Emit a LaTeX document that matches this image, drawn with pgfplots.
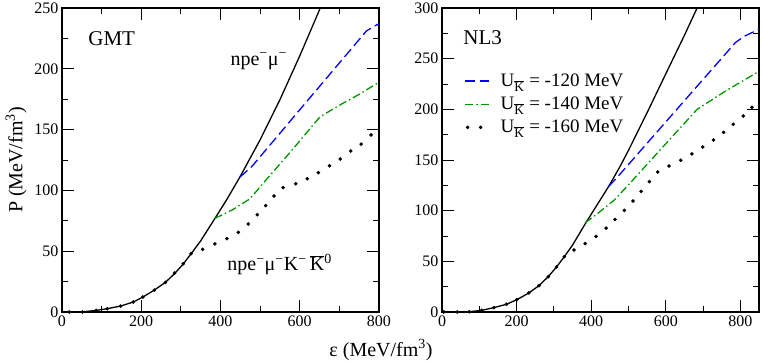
\documentclass[border=0pt]{standalone}
\usepackage{fontspec}
\setmainfont{Liberation Serif}
\usepackage{pgfplots}
\pgfplotsset{compat=1.18}
\definecolor{ublue}{RGB}{0,0,255}
\definecolor{ugreen}{RGB}{0,150,0}
\newcommand{\ovl}[1]{\leavevmode\vbox{\hrule height 0.6pt\kern 1.2pt\hbox{#1}}}

\pgfplotstableread{
x y
0 0
20 0
50 0.1
86 1.3
114 2.7
148 4.9
180 8.2
204 12.3
233 18
261 24.4
284 31.5
306 39.5
326 48
350 58.5
386 77
415 92
449 111
500 141.6
550 174.6
600 210.6
650 248.6
665 260
}\gmtnpe
\pgfplotstableread{
x y
449 111
465 115.5
480 120
600 166.3
700 204.8
768 231
785 234.5
800 237
}\gmtA
\pgfplotstableread{
x y
386 77
430 84
474 93
516 109
575 131
651 160.5
700 170
750 179
802 189.4
}\gmtB
\pgfplotstableread{
x y
18.5 0
52 0
86 1.3
114 2.7
148 4.9
180 8.2
204 12.3
233 18
261 24.4
284 32
306 39.7
326 48
355 51.5
386 56
416 60.3
445 65.5
470 72.4
493 80
514 87.5
535 95.4
558 102.2
590 105.5
619 109.6
647 114.6
675 120.3
702 125.8
729 132.4
755 138
780 145.6
}\gmtC
\pgfplotstableread{
x y
0 0
41 0
73 0.3
106 1.6
139 4.3
173 7.6
201 12.2
233 18.8
260 26
285 34.9
307 44.4
328 54.6
350 66
384 87
424 110.5
447 124
478 144
500 159.5
553 199
600 235
650 273
684 300
695 309
}\nlnpe
\pgfplotstableread{
x y
447 124
470 133
787 266
810 272
850 279
}\nlA
\pgfplotstableread{
x y
384 88
420 98
462 110.5
500 125.5
600 166
684 200
760 218
850 237.5
}\nlB
\pgfplotstableread{
x y
5 0
41 0
73 0.3
106 1.6
139 4.3
173 7.6
201 12.2
233 18.8
260 26
285 34.9
307 44.4
328 54.6
354 61.2
384 67.5
413 74.6
440 82.7
464 91.3
489 100.2
512 109.5
534 119
556 128.6
578.5 138.2
608.6 144
640 149.7
670 156
699 162.8
728 169.7
755 177.3
781 185.2
808 193.4
831 202
}\nlC

\pgfplotsset{
 panel/.style={
  scale only axis, width=317pt, height=304pt,
  axis line style={line width=1.1pt},
  every tick/.style={black, line width=0.9pt},
  major tick length=12pt, minor tick length=6pt,
  tick label style={font=\fontsize{16}{19}\selectfont},
  /pgf/number format/assume math mode=true,
  minor x tick num=1, minor y tick num=1,
  xtick={0,200,...,800},
  ytick distance=50,
 },
 npe/.style={black, line width=1.3pt},
 ka/.style={ublue, line width=1.3pt, dash pattern=on 10pt off 4.5pt},
 kb/.style={ugreen, line width=1.3pt, dash pattern=on 8pt off 3pt on 1.5pt off 3pt},
 kc/.style={black, only marks, mark=*, mark size=1.6pt},
 lineleg/.style={legend image code/.code={\draw[##1] (0pt,0pt) -- (24pt,0pt);}},
 dotleg/.style={legend image code/.code={\fill (2.5pt,0pt) circle (1.6pt); \fill (15.5pt,0pt) circle (1.6pt); \path (24pt,0pt);}},
}

\begin{document}
\begin{tikzpicture}
\path[use as bounding box] (-62pt,-51pt) rectangle (701pt,312pt);
\begin{axis}[panel, xmin=0, xmax=800, ymin=0, ymax=250,
  ylabel={P (MeV/fm\textsuperscript{3})},
  every axis y label/.style={at={(axis description cs:-0.145,0.5)}, rotate=90, anchor=center, font=\fontsize{20}{23}\selectfont}]
\addplot[npe] table {\gmtnpe};
\addplot[ka] table {\gmtA};
\addplot[kb] table {\gmtB};
\addplot[kc] table {\gmtC};
\node[anchor=base west, inner sep=0pt, font=\fontsize{21}{24}\selectfont] at (axis cs:66,219) {GMT};
\node[anchor=base west, inner sep=0pt, font=\fontsize{20}{23}\selectfont] at (axis cs:425,203) {npe\textsuperscript{−}μ\textsuperscript{−}};
\node[anchor=base west, inner sep=0pt, font=\fontsize{20}{23}\selectfont] at (axis cs:417,34) {npe\textsuperscript{−}μ\textsuperscript{−}K\textsuperscript{−}\,\ovl{K}\textsuperscript{0}};
\end{axis}
\begin{axis}[panel, at={(380pt,0pt)}, xmin=0, xmax=850, ymin=0, ymax=300,
  legend cell align=left,
  legend style={draw=none, fill=none, at={(axis description cs:0.07,0.79)}, anchor=north west,
    font=\fontsize{19}{22}\selectfont, row sep=5pt, inner sep=0pt,
    /tikz/every odd column/.style={column sep=9pt}}]
\addplot[npe, forget plot] table {\nlnpe};
\addplot[ka, lineleg] table {\nlA};
\addlegendentry{U\textsubscript{\ovl{K}} = -120 MeV}
\addplot[kb, lineleg] table {\nlB};
\addlegendentry{U\textsubscript{\ovl{K}} = -140 MeV}
\addplot[kc, dotleg] table {\nlC};
\addlegendentry{U\textsubscript{\ovl{K}} = -160 MeV}
\node[anchor=base west, inner sep=0pt, font=\fontsize{21}{24}\selectfont] at (axis cs:57,264) {NL3};
\end{axis}
\node[font=\fontsize{20}{23}\selectfont] at (319pt,-38pt) {ε (MeV/fm\textsuperscript{3})};
\end{tikzpicture}
\end{document}
